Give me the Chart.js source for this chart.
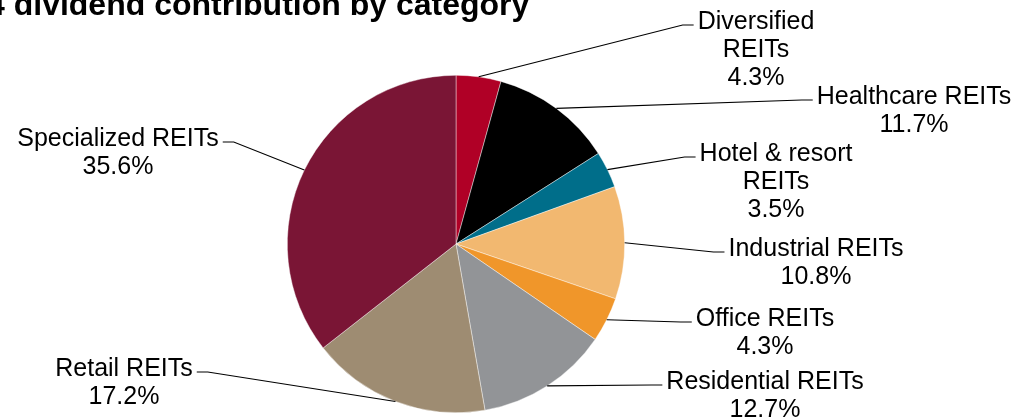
<!DOCTYPE html>
<html>
<head>
<meta charset="utf-8">
<script src="https://cdn.jsdelivr.net/npm/chart.js@4.4.1/dist/chart.umd.min.js"></script>
<style>
  html, body { margin: 0; padding: 0; background: #ffffff; }
  #wrap { width: 1017px; height: 420px; position: relative; }
</style>
</head>
<body>
<div id="wrap"><canvas id="c" width="1017" height="420"></canvas></div>
<script>
// ---- data ----
const categories = ["Diversified REITs", "Healthcare REITs", "Hotel & resort REITs", "Industrial REITs",
                    "Office REITs", "Residential REITs", "Retail REITs", "Specialized REITs"];
const shares = [4.3, 11.7, 3.5, 10.8, 4.3, 12.7, 17.2, 35.6];
const titleText = "4 dividend contribution by category";

// ---- styles / layout (not data) ----
const sliceColors = ["#B00026", "#000000", "#006E8A", "#F2B870", "#F0962A", "#929497", "#9E8C72", "#7A1535"];
// label anchors: centre x, first baseline y, side of pie, wrap name before "REITs"
const labelLayout = [
  { cx: 756, y: 29,  side: "right", wrap: true },
  { cx: 914, y: 104, side: "right", wrap: false },
  { cx: 776, y: 161, side: "right", wrap: true },
  { cx: 816, y: 256, side: "right", wrap: false },
  { cx: 765, y: 326, side: "right", wrap: false },
  { cx: 765, y: 389, side: "right", wrap: false },
  { cx: 124, y: 376, side: "left",  wrap: false },
  { cx: 118, y: 146, side: "left",  wrap: false }
];
const FONT = '25px "Liberation Sans", Arial, sans-serif';
const LINE_H = 28;

const labelPlugin = {
  id: 'calloutLabels',
  afterDraw(chart) {
    const ctx = chart.ctx;
    const meta = chart.getDatasetMeta(0);
    ctx.save();
    // title (clipped at the top/left like the reference)
    ctx.font = 'bold 32px "Liberation Sans", Arial, sans-serif';
    ctx.fillStyle = '#000';
    ctx.textAlign = 'left';
    ctx.textBaseline = 'alphabetic';
    ctx.fillText(titleText, -13, 14.5);

    ctx.font = FONT;
    ctx.textAlign = 'center';
    meta.data.forEach((arc, i) => {
      const L = labelLayout[i];
      const name = categories[i];
      let lines;
      if (L.wrap) {
        const k = name.lastIndexOf(' ');
        lines = [name.slice(0, k), name.slice(k + 1)];
      } else {
        lines = [name];
      }
      lines.push(shares[i].toFixed(1) + '%');
      lines.forEach((t, j) => ctx.fillText(t, L.cx, L.y + j * LINE_H));

      // leader line from arc edge (mid angle) to text
      const p = arc.getProps(['x', 'y', 'startAngle', 'endAngle', 'outerRadius'], true);
      const mid = (p.startAngle + p.endAngle) / 2;
      const sx = p.x + Math.cos(mid) * p.outerRadius;
      const sy = p.y + Math.sin(mid) * p.outerRadius;
      const w = ctx.measureText(lines[0]).width;
      const ey = L.y - 4;
      let ex, bx;
      if (L.side === 'right') { ex = L.cx - w / 2 - 4; bx = ex - 11; }
      else { ex = L.cx + w / 2 + 4; bx = ex + 11; }
      ctx.beginPath();
      ctx.strokeStyle = '#000';
      ctx.lineWidth = 1.1;
      ctx.moveTo(sx, sy);
      ctx.lineTo(bx, ey);
      ctx.lineTo(ex, ey);
      ctx.stroke();
    });
    ctx.restore();
  }
};

new Chart(document.getElementById('c'), {
  type: 'pie',
  data: {
    labels: categories,
    datasets: [{
      data: shares,
      backgroundColor: sliceColors,
      borderColor: 'rgba(255,255,255,0.7)',
      borderWidth: 0.6
    }]
  },
  options: {
    responsive: false,
    animation: false,
    rotation: 0,
    layout: { padding: { left: 287, right: 392, top: 75, bottom: 7 } },
    plugins: { legend: { display: false }, tooltip: { enabled: false }, title: { display: false } }
  },
  plugins: [labelPlugin]
});
</script>
</body>
</html>
